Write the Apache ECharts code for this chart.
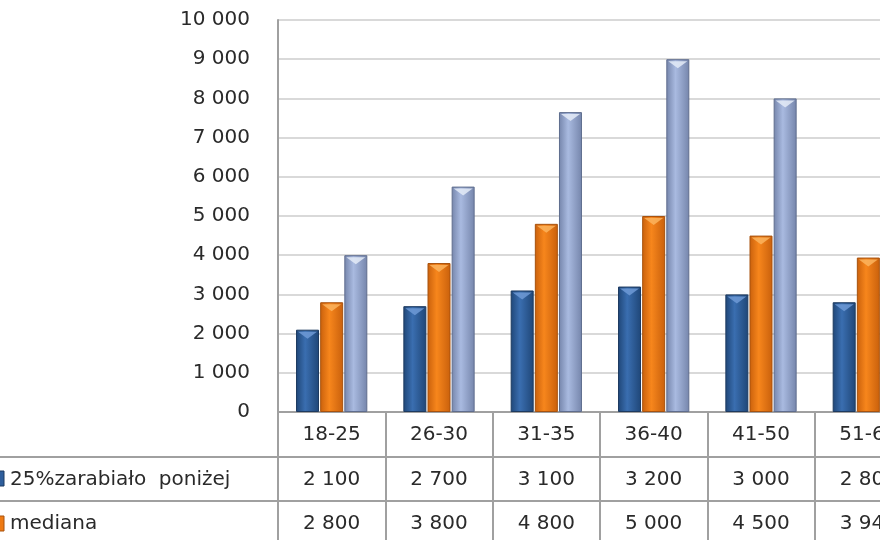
<!DOCTYPE html>
<html>
<head>
<meta charset="utf-8">
<script src="https://cdn.jsdelivr.net/npm/echarts@6/dist/echarts.min.js"></script>
<style>
  html, body { margin: 0; padding: 0; background: #fff; overflow: hidden; }
  #chart { width: 930px; height: 540px; }
</style>
</head>
<body>
<div id="chart"></div>
<script>
// age groups (last one is cut off at the right edge of the picture)
var categories = ['18-25', '26-30', '31-35', '36-40', '41-50', '51-60'];
var seriesNames = ['25% zarabiało poniżej', 'mediana', '25% zarabiało powyżej'];
var lowQuartile = [2100, 2700, 3100, 3200, 3000, 2800];
var median = [2800, 3800, 4800, 5000, 4500, 3940];
var highQuartile = [4000, 5750, 7650, 9000, 8000, 6050];
var rowLabels = ['25%zarabiało  poniżej', 'mediana'];
var colors = ['#2e5e9c', '#ee7a13', '#98a9d2'];

var FONT = '"DejaVu Sans", sans-serif';

function fmt(v) {
  return String(v).replace(/\B(?=(\d{3})+(?!\d))/g, ' ');
}

function grad(edge, mid) {
  return new echarts.graphic.LinearGradient(0, 0, 1, 0, [
    { offset: 0, color: edge },
    { offset: 0.4, color: mid },
    { offset: 1, color: edge }
  ]);
}

// light chevron on top of every bar
function cap(data, color) {
  return {
    type: 'pictorialBar', data: data, barWidth: 23, barGap: '5%', barCategoryGap: '33%',
    symbol: 'triangle', symbolRotate: 180, symbolSize: [19, 7],
    symbolPosition: 'end', symbolOffset: [0, 2], z: 3, silent: true,
    itemStyle: { color: color, opacity: 0.85 }
  };
}

var chart = echarts.init(document.getElementById('chart'));

var option = {
  animation: false,
  textStyle: { fontFamily: FONT },
  grid: { left: 278, top: 20, width: 644, height: 392, outerBoundsMode: 'none' },
  xAxis: {
    type: 'category',
    data: categories,
    axisLine: { lineStyle: { color: '#a0a0a0', width: 2 } },
    axisTick: { show: true, length: 130, interval: 0, lineStyle: { color: '#a0a0a0', width: 2 } },
    axisLabel: {
      interval: 0,
      margin: 1,
      color: '#2a2a2a',
      fontSize: 20,
      lineHeight: 44.5,
      formatter: function (v, i) {
        return v + '\n' + fmt(lowQuartile[i]) + '\n' + fmt(median[i]);
      }
    }
  },
  yAxis: {
    type: 'value',
    min: 0,
    max: 10000,
    interval: 1000,
    axisLine: { show: true, lineStyle: { color: '#a0a0a0', width: 2 } },
    axisTick: { show: false },
    splitLine: { lineStyle: { color: '#d9d9d9', width: 2 } },
    axisLabel: { color: '#2a2a2a', fontSize: 20, margin: 28, formatter: fmt }
  },
  series: [
    {
      name: seriesNames[0], type: 'bar', data: lowQuartile,
      barWidth: 23, barGap: '5%', barCategoryGap: '33%',
      itemStyle: { color: grad('#1f4677', '#3a6eb0'), borderColor: '#1d3a60', borderWidth: 1 }
    },
    {
      name: seriesNames[1], type: 'bar', data: median,
      barWidth: 23, barGap: '5%',
      itemStyle: { color: grad('#c9600c', '#f7861c'), borderColor: '#a8520e', borderWidth: 1 }
    },
    {
      name: seriesNames[2], type: 'bar', data: highQuartile,
      barWidth: 23, barGap: '5%',
      itemStyle: { color: grad('#7585ab', '#a9bae0'), borderColor: '#5f6d8e', borderWidth: 1 }
    },
    cap(lowQuartile, '#6f9ad6'),
    cap(median, '#fbb45e'),
    cap(highQuartile, '#e4ebf7')
  ],
  graphic: [
    { type: 'line', shape: { x1: 0, y1: 457, x2: 930, y2: 457 }, style: { stroke: '#a0a0a0', lineWidth: 2 } },
    { type: 'line', shape: { x1: 0, y1: 501, x2: 930, y2: 501 }, style: { stroke: '#a0a0a0', lineWidth: 2 } },
    { type: 'rect', shape: { x: -11, y: 471, width: 15, height: 15 }, style: { fill: colors[0], stroke: '#1d3a60', lineWidth: 1 } },
    { type: 'rect', shape: { x: -11, y: 516, width: 15, height: 15 }, style: { fill: colors[1], stroke: '#a8520e', lineWidth: 1 } },
    { type: 'text', x: 10, y: 480, style: { text: rowLabels[0], fill: '#2a2a2a', fontSize: 20, fontFamily: FONT, verticalAlign: 'middle' } },
    { type: 'text', x: 10, y: 524, style: { text: rowLabels[1], fill: '#2a2a2a', fontSize: 20, fontFamily: FONT, verticalAlign: 'middle' } }
  ]
};

chart.setOption(option);
</script>
</body>
</html>
